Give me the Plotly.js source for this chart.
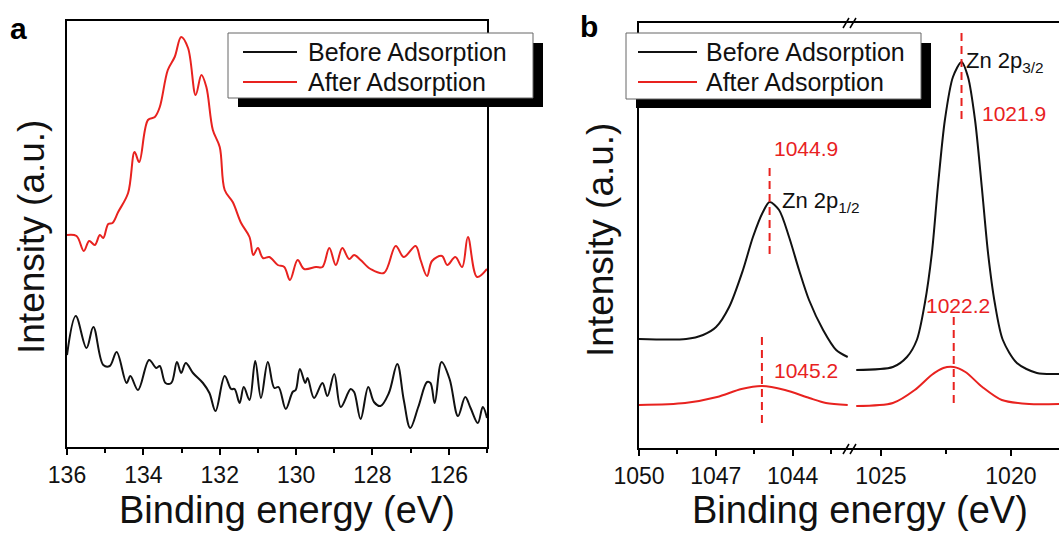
<!DOCTYPE html>
<html>
<head>
<meta charset="utf-8">
<script src="https://cdn.plot.ly/plotly-3.0.1.min.js"></script>
<style>html,body{margin:0;padding:0;background:#fff;}#chart{width:1059px;height:533px;}</style>
</head>
<body>
<div id="chart"></div>
<script>
// ---------- Panel a: P 2p region ----------
const pBeforeE = [136.0,135.77,135.49,135.31,135.05,134.88,134.70,134.44,134.34,134.14,133.85,133.66,133.57,133.42,133.27,133.12,133.01,132.89,132.70,132.44,132.27,132.11,131.87,131.70,131.61,131.48,131.37,131.22,131.07,130.92,130.74,130.57,130.46,130.27,130.09,130.01,129.90,129.76,129.70,129.53,129.31,129.18,129.00,128.83,128.57,128.48,128.31,128.11,127.96,127.79,127.57,127.35,127.18,127.01,126.80,126.57,126.48,126.37,126.19,125.98,125.76,125.57,125.43,125.24,125.11,125.0];
const pBeforeI = [92,131,99,120,82,81,95,64,71,57,87,79,81,64,64,85,74,84,74,64,54,36,71,58,58,44,60,47,86,49,85,59,60,38,55,57,78,64,69,49,64,51,73,40,58,55,28,60,45,41,54,83,47,19,40,65,64,44,85,68,31,50,39,24,40,29];
const pAfterE = [136.0,135.75,135.56,135.42,135.27,135.14,135.05,134.92,134.81,134.66,134.40,134.23,134.11,133.88,133.70,133.57,133.36,133.18,133.01,132.83,132.63,132.48,132.35,132.18,132.00,131.87,131.66,131.44,131.22,131.12,131.00,130.87,130.70,130.48,130.31,130.16,129.96,129.79,129.48,129.31,129.13,128.96,128.79,128.61,128.48,128.31,128.05,127.70,127.39,127.18,126.87,126.74,126.57,126.44,126.18,126.04,125.83,125.65,125.50,125.26,125.0];
const pAfterI = [212,211,196,206,202,212,209,223,224,235,254,295,285,327,330,340,377,390,410,399,352,372,360,317,300,257,245,224,210,192,199,189,190,182,180,167,187,178,180,180,199,182,199,188,192,187,178,174,201,190,201,187,171,186,191,182,190,180,210,170,178];
const pTickVals = [136,134,132,130,128,126];

// ---------- Panel b: Zn 2p region (broken axis) ----------
const znBeforeLeftE = [1050.0,1048.16,1047.5,1046.99,1046.48,1045.94,1045.55,1045.16,1044.9,1044.53,1044.14,1043.75,1043.36,1042.81,1042.30,1041.85];
const znBeforeLeftI = [109,109,113,121,141,178,211,236,246,238,211,178,148,118,98,91];
const znAfterLeftE = [1050.0,1048.2,1046.95,1046.0,1045.2,1044.3,1043.35,1042.7,1041.85];
const znAfterLeftI = [43,45,51,59,62,58,50,45,43];
const znBeforeRightE = [1025.95,1024.54,1024.0,1023.62,1023.31,1023.04,1022.81,1022.54,1022.23,1021.9,1021.65,1021.38,1021.12,1020.88,1020.62,1020.31,1019.77,1019.0,1018.15];
const znBeforeRightI = [78,81,91,108,145,195,261,328,371,386,371,328,261,195,145,108,85,75,74];
const znAfterRightE = [1025.95,1024.54,1023.7,1023.05,1022.6,1022.2,1021.75,1021.1,1020.35,1019.3,1018.15];
const znAfterRightI = [42,45,58,73,80,81,76,61,48,44,44];
const znLeftTicks = [1050,1047,1044];
const znRightTicks = [1025,1020];

// peak markers: position, dashed-line span (intensity)
const peakBefore12 = {e:1044.9, span:[280,193]};
const peakAfter12  = {e:1045.2, span:[111,25]};
const peakBefore32 = {e:1021.9, span:[415,328]};
const peakAfter32  = {e:1022.2, span:[131,41]};

const seriesNames = ['Before Adsorption','After Adsorption'];
const xTitle = 'Binding energy (eV)';
const yTitle = 'Intensity (a.u.)';
const BLACK = '#111111', RED = '#e8221f';
const FONT = 'Arial, "Liberation Sans", Helvetica, sans-serif';

const W = 1059, H = 533;
const X = px => px / W;
const Y = py => 1 - py / H;

function curve(x, y, color, xa, ya, name, sm) {
  return {x, y, type:'scatter', mode:'lines', name, xaxis:xa, yaxis:ya,
          line:{color, width:2, shape:'spline', smoothing:sm}, hoverinfo:'x+y', showlegend:false};
}
function dashLine(p, xa) {
  return {x:[p.e,p.e], y:p.span, type:'scatter', mode:'lines', xaxis:xa, yaxis:'y2',
          line:{color:RED, width:2, dash:'8px,5px'}, hoverinfo:'skip', showlegend:false};
}

const traces = [
  curve(pBeforeE, pBeforeI, BLACK, 'x', 'y', seriesNames[0], 1.0),
  curve(pAfterE, pAfterI, RED, 'x', 'y', seriesNames[1], 1.0),
  curve(znBeforeLeftE, znBeforeLeftI, BLACK, 'x2', 'y2', seriesNames[0], 0.8),
  curve(znAfterLeftE, znAfterLeftI, RED, 'x2', 'y2', seriesNames[1], 0.8),
  curve(znBeforeRightE, znBeforeRightI, BLACK, 'x3', 'y2', seriesNames[0], 0.8),
  curve(znAfterRightE, znAfterRightI, RED, 'x3', 'y2', seriesNames[1], 0.8),
  dashLine(peakBefore12, 'x2'),
  dashLine(peakAfter12, 'x2'),
  dashLine(peakBefore32, 'x3'),
  dashLine(peakAfter32, 'x3')
];

const tickFont = {family:FONT, size:23, color:'#111'};
const xTitleFont = {family:FONT, size:38, color:'#111'};
const yTitleFont = {family:FONT, size:37, color:'#111'};
const baseX = {showline:true, linecolor:'#000', linewidth:2, ticks:'outside', ticklen:6, tickwidth:2,
               tickcolor:'#000', tickfont:tickFont, showgrid:false, zeroline:false, fixedrange:true};
const baseY = {showline:true, linecolor:'#000', linewidth:2, ticks:'', showticklabels:false,
               showgrid:false, zeroline:false, fixedrange:true};

const layout = {
  width:W, height:H, margin:{l:0, r:0, t:0, b:0},
  paper_bgcolor:'#fff', plot_bgcolor:'#fff', showlegend:false,
  font:{family:FONT, color:'#111'},
  xaxis: Object.assign({}, baseX, {domain:[X(67), X(487)], range:[136,125], anchor:'y', mirror:true,
          tickvals:pTickVals, minor:{dtick:1, tick0:125, ticklen:4, tickwidth:2, ticks:'outside', tickcolor:'#000'}}),
  yaxis: Object.assign({}, baseY, {domain:[Y(447), Y(21)], range:[0,426], anchor:'x', mirror:true}),
  xaxis2: Object.assign({}, baseX, {domain:[X(639), X(850)], range:[1050,1041.76], anchor:'y2', mirror:true,
          tickvals:znLeftTicks, minor:{dtick:1.5, tick0:1050, ticklen:4, tickwidth:2, ticks:'outside', tickcolor:'#000'}}),
  xaxis3: Object.assign({}, baseX, {domain:[X(850), 1], range:[1026.19,1018.15], anchor:'y2', mirror:true,
          tickvals:znRightTicks, minor:{dtick:2.5, tick0:1025, ticklen:4, tickwidth:2, ticks:'outside', tickcolor:'#000'}}),
  yaxis2: Object.assign({}, baseY, {domain:[Y(448), Y(23)], range:[0,425], anchor:'x2', mirror:false}),
  shapes:[], annotations:[]
};

// axis titles
function addTitle(px, py, text, font, angle) {
  layout.annotations.push({xref:'paper', yref:'paper', x:X(px), y:Y(py), text, showarrow:false, font,
    textangle:angle, xanchor:'center', yanchor:'middle'});
}
addTitle(287, 510, xTitle, xTitleFont, 0);
addTitle(860, 510, xTitle, xTitleFont, 0);
addTitle(31, 237, yTitle, yTitleFont, -90);
addTitle(600, 240, yTitle, yTitleFont, -90);

// legends (drawn boxes with drop shadow)
function addLegend(box, sample, textX) {
  layout.shapes.push({type:'rect', xref:'paper', yref:'paper', x0:X(box[0]+10), x1:X(box[1]+10), y0:Y(box[3]+9), y1:Y(box[2]+10),
    fillcolor:'#000', line:{width:0}, layer:'above'});
  layout.shapes.push({type:'rect', xref:'paper', yref:'paper', x0:X(box[0]), x1:X(box[1]), y0:Y(box[3]), y1:Y(box[2]),
    fillcolor:'#fff', line:{color:'#666', width:1}, layer:'above'});
  [[52, BLACK, seriesNames[0]], [82, RED, seriesNames[1]]].forEach(([py, c, t]) => {
    layout.shapes.push({type:'line', xref:'paper', yref:'paper', x0:X(sample[0]), x1:X(sample[1]), y0:Y(py), y1:Y(py),
      line:{color:c, width:2}, layer:'above'});
    layout.annotations.push({xref:'paper', yref:'paper', x:X(textX), y:Y(py), xanchor:'left', yanchor:'middle',
      text:t, showarrow:false, font:{family:FONT, size:25, color:'#111'}});
  });
}
addLegend([228,533,33,98], [243,297], 306);
addLegend([626,921,33,99], [638,697], 704);

// axis break marks
[449, 23].forEach(py => {
  [846, 853].forEach(cx => {
    layout.shapes.push({type:'line', xref:'paper', yref:'paper', x0:X(cx-3), x1:X(cx+3), y0:Y(py+5), y1:Y(py-5),
      line:{color:'#000', width:1.5}, layer:'above'});
  });
});

// panel letters
layout.annotations.push({xref:'paper', yref:'paper', x:X(18), y:Y(29), text:'<b>a</b>', showarrow:false,
  font:{family:FONT, size:30, color:'#000'}, xanchor:'center', yanchor:'middle'});
layout.annotations.push({xref:'paper', yref:'paper', x:X(589), y:Y(27), text:'<b>b</b>', showarrow:false,
  font:{family:FONT, size:30, color:'#000'}, xanchor:'center', yanchor:'middle'});

// peak labels
const numFont = {family:FONT, size:21, color:RED};
const znFont = {family:FONT, size:22, color:'#111'};
layout.annotations.push({xref:'x2', yref:'y2', x:peakBefore12.e, y:300, xshift:2, text:String(peakBefore12.e), showarrow:false, font:numFont, xanchor:'left', yanchor:'middle'});
layout.annotations.push({xref:'x2', yref:'y2', x:peakBefore12.e, y:246, xshift:10, text:'Zn 2p<sub>1/2</sub>', showarrow:false, font:znFont, xanchor:'left', yanchor:'middle'});
layout.annotations.push({xref:'x2', yref:'y2', x:peakAfter12.e, y:78, xshift:10, text:String(peakAfter12.e), showarrow:false, font:numFont, xanchor:'left', yanchor:'middle'});
layout.annotations.push({xref:'x3', yref:'y2', x:peakBefore32.e, y:335, xshift:18, text:String(peakBefore32.e), showarrow:false, font:numFont, xanchor:'left', yanchor:'middle'});
layout.annotations.push({xref:'x3', yref:'y2', x:peakBefore32.e, y:386, xshift:2, text:'Zn 2p<sub>3/2</sub>', showarrow:false, font:znFont, xanchor:'left', yanchor:'middle'});
layout.annotations.push({xref:'x3', yref:'y2', x:peakAfter32.e, y:143, xshift:4, text:String(peakAfter32.e), showarrow:false, font:numFont, xanchor:'center', yanchor:'middle'});

Plotly.newPlot('chart', traces, layout, {staticPlot:true, displayModeBar:false});
</script>
</body>
</html>
